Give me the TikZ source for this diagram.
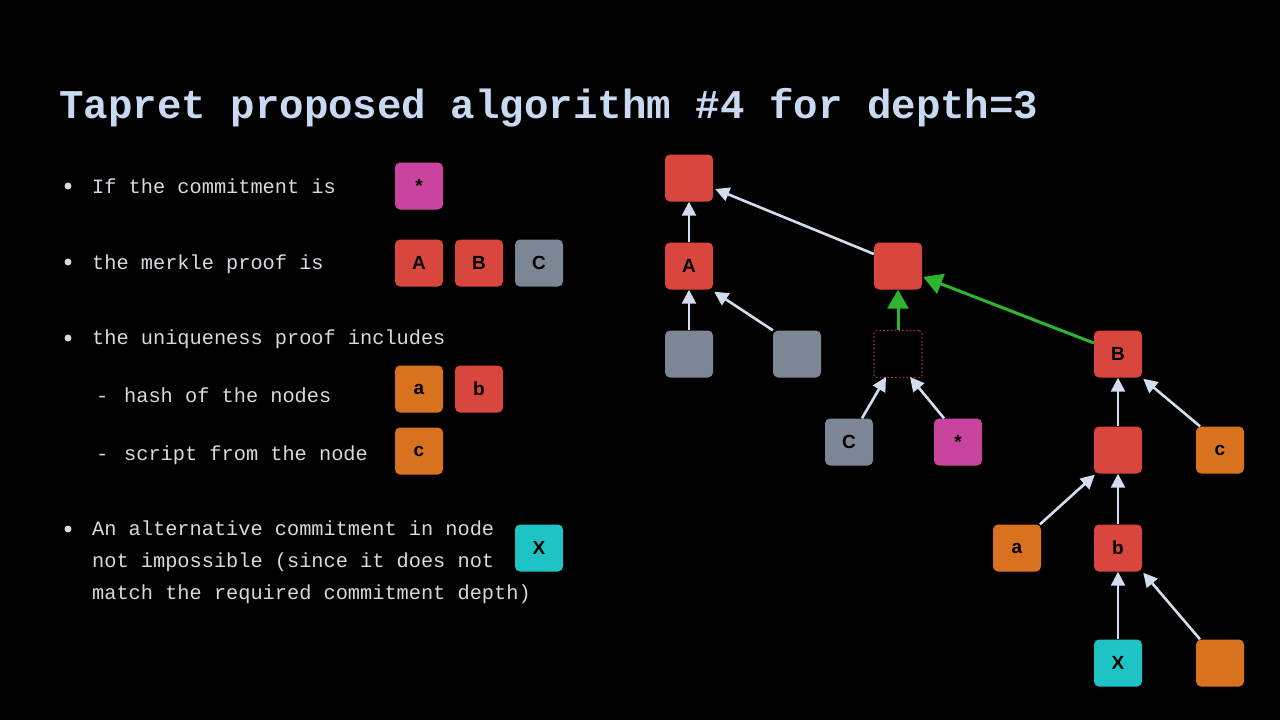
\documentclass[tikz,border=0pt]{standalone}
\usepackage{fontspec}
\setmainfont{Liberation Sans}
\newfontfamily\codefont{Liberation Mono}
\usetikzlibrary{arrows.meta}
\definecolor{bg}{HTML}{000000}
\definecolor{titlecol}{HTML}{C9D9F2}
\definecolor{textcol}{HTML}{D8DAE0}
\definecolor{hred}{HTML}{D9463E}
\definecolor{hgray}{HTML}{7C8694}
\definecolor{hmag}{HTML}{C8449E}
\definecolor{horange}{HTML}{D9721E}
\definecolor{hteal}{HTML}{1EC3C6}
\definecolor{hgreen}{HTML}{2DB52D}
\definecolor{edgecol}{HTML}{D3DDF0}
\definecolor{dashred}{HTML}{A8392F}
\tikzset{
  hbox/.style={rounded corners=5pt, minimum width=48pt, minimum height=47pt,
    inner sep=0pt, font=\normalfont\bfseries\fontsize{19}{19}\selectfont, text=black},
  redbox/.style={hbox, fill=hred},
  graybox/.style={hbox, fill=hgray},
  magbox/.style={hbox, fill=hmag},
  orbox/.style={hbox, fill=horange},
  tealbox/.style={hbox, fill=hteal},
  ghostbox/.style={rounded corners=3pt, minimum width=48pt, minimum height=47pt,
    draw=dashred, line width=1.1pt, dash pattern=on 1.6pt off 2.2pt},
  edge/.style={draw=edgecol, line width=2.6pt, -{Triangle[length=14pt,width=14pt]}},
  hot/.style={draw=hgreen, line width=3pt, -{Triangle[length=19pt,width=21pt]}},
  body/.style={anchor=base west, inner sep=0pt, text=textcol,
    font=\codefont\fontsize{20.3}{32}\selectfont},
  dot/.style={circle, fill=textcol, minimum size=7pt, inner sep=0pt},
}
\begin{document}
\begin{tikzpicture}[x=1pt, y=-1pt]
\fill[bg] (0,0) rectangle (1280,720);
\useasboundingbox (0,0) rectangle (1280,720);

% heading
\node[anchor=base west, inner sep=0pt, text=titlecol,
  font=\codefont\bfseries\fontsize{40.8}{42}\selectfont] (title) at (59,118)
  {Tapret proposed algorithm \#4 for depth=3};

% bullet list
\node[dot] (d1) at (68,186) {};
\node[body] (t1) at (92,193) {If the commitment is};
\node[dot] (d2) at (68,262) {};
\node[body] (t2) at (92,269) {the merkle proof is};
\node[dot] (d3) at (68,338) {};
\node[body] (t3) at (92,344) {the uniqueness proof includes};
\node[body] (s1) at (96,402) {-};
\node[body] (t4) at (124,402) {hash of the nodes};
\node[body] (s2) at (96,460) {-};
\node[body] (t5) at (124,460) {script from the node};
\node[dot] (d4) at (68,529) {};
\node[body] (t6) at (92,535) {An alternative commitment in node};
\node[body] (t7) at (92,567) {not impossible (since it does not};
\node[body] (t8) at (92,599) {match the required commitment depth)};

% legend boxes beside the list
\node[magbox] (lstar) at (419,186) {*};
\node[redbox] (lA) at (419,263) {A};
\node[redbox] (lB) at (479,263) {B};
\node[graybox] (lC) at (539,263) {C};
\node[orbox] (la) at (419,389) {a};
\node[redbox] (lb) at (479,389) {b};
\node[orbox] (lc) at (419,451) {c};
\node[tealbox] (lX) at (539,548) {X};

% tree
\node[redbox] (root) at (689,178) {};
\node[redbox] (nA) at (689,266) {A};
\node[graybox] (g1) at (689,354) {};
\node[graybox] (g2) at (797,354) {};
\node[redbox] (mid) at (898,266) {};
\node[ghostbox] (ghost) at (898,354) {};
\node[graybox] (nC) at (849,442) {C};
\node[magbox] (nstar) at (958,442) {*};
\node[redbox] (nB) at (1118,354) {B};
\node[redbox] (inner) at (1118,450) {};
\node[orbox] (nc) at (1220,450) {c};
\node[orbox] (na) at (1017,548) {a};
\node[redbox] (nb) at (1118,548) {b};
\node[tealbox] (nX) at (1118,663) {X};
\node[orbox] (leaf) at (1220,663) {};

% connectors
\draw[edge] (nA) -- (root);
\draw[edge] ([yshift=12pt]mid.west) -- ([xshift=2pt,yshift=-11pt]root.east);
\draw[edge] (g1) -- (nA);
\draw[edge] (g2.north west) -- ([xshift=1pt,yshift=-2pt]nA.south east);
\draw[edge] ([xshift=13pt]nC.north) -- ([xshift=-12pt,yshift=1pt]ghost.south);
\draw[edge] ([xshift=-14pt]nstar.north) -- ([xshift=12pt,yshift=1pt]ghost.south);
\draw[edge] (inner) -- (nB);
\draw[edge] ([xshift=-20pt]nc.north) -- ([xshift=1pt,yshift=-1pt]nB.south east);
\draw[edge] ([xshift=23pt]na.north) -- ([xshift=1pt,yshift=-1pt]inner.south west);
\draw[edge] (nb) -- (inner);
\draw[edge] (nX) -- (nb);
\draw[edge] ([xshift=-20pt]leaf.north) -- ([xshift=1pt,yshift=-1pt]nb.south east);
\draw[hot] (ghost) -- (mid);
\draw[hot] ([yshift=11pt]nB.west) -- ([xshift=1pt,yshift=-11pt]mid.east);
\end{tikzpicture}
\end{document}
